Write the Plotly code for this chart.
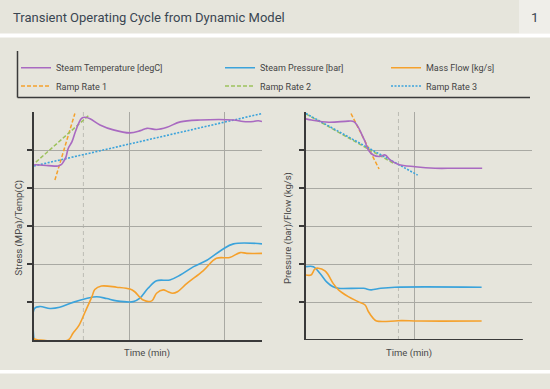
import plotly.graph_objects as go

# ---------------- data ----------------
# Left panel: Stress (MPa)/Temp(C) vs Time (min)
left_temp_t = [0, 0.01, 0.15, 0.256, 0.29, 0.31, 0.337, 0.36, 0.40, 0.43, 0.47, 0.50, 0.537, 0.59,
               0.695, 0.835, 1.01, 1.12, 1.19, 1.29, 1.40, 1.54, 1.75, 2.1, 2.2, 2.31, 2.36, 2.4]
left_temp_v = [4.6, 4.61, 4.59, 4.58, 4.62, 4.69, 4.82, 5.04, 5.22, 5.44, 5.7, 5.83, 5.86, 5.82,
               5.66, 5.53, 5.45, 5.51, 5.57, 5.54, 5.6, 5.74, 5.79, 5.79, 5.75, 5.75, 5.77, 5.75]

left_pres_t = [0, 0.005, 0.063, 0.168, 0.27, 0.41, 0.55, 0.66, 0.765, 0.87, 1.045, 1.115, 1.2,
               1.29, 1.43, 1.54, 1.68, 1.82, 1.975, 2.1, 2.4]
left_pres_v = [0, 0.83, 0.88, 0.83, 0.86, 0.99, 1.09, 1.14, 1.09, 1.03, 1.01, 1.1, 1.36,
               1.56, 1.58, 1.71, 1.93, 2.1, 2.37, 2.53, 2.53]

left_flow_t = [0, 0.01, 0.05, 0.36, 0.41, 0.47, 0.54, 0.61, 0.64, 0.71, 0.87, 1.01, 1.06, 1.15,
               1.24, 1.29, 1.36, 1.41, 1.46, 1.51, 1.61, 1.78, 1.92, 2.06, 2.17, 2.24, 2.4]
left_flow_v = [0.05, 0.02, 0.0, 0.0, 0.18, 0.37, 0.75, 1.14, 1.33, 1.42, 1.39, 1.34, 1.27, 1.05,
               1.03, 1.23, 1.32, 1.27, 1.23, 1.27, 1.49, 1.82, 2.15, 2.17, 2.3, 2.28, 2.28]

left_ramp1_t = [0.22, 0.43]
left_ramp1_v = [4.21, 5.96]
left_ramp2_t = [0.02, 0.58]
left_ramp2_v = [4.68, 5.92]
left_ramp3_t = [0.0, 2.4]
left_ramp3_v = [4.58, 5.96]
left_marker_time = 0.52

# Right panel: Pressure (bar)/Flow (kg/s) vs Time (min)
right_temp_t = [0, 0.05, 0.21, 0.39, 0.44, 0.48, 0.51, 0.545, 0.575, 0.62, 0.68, 0.73, 0.776,
                0.853, 1.006, 1.19, 1.37, 1.625]
right_temp_v = [5.82, 5.79, 5.73, 5.76, 5.75, 5.61, 5.44, 5.22, 5.0, 4.87, 4.83, 4.87, 4.74,
                4.62, 4.56, 4.52, 4.52, 4.52]

right_pres_t = [0, 0.068, 0.13, 0.19, 0.25, 0.3, 0.53, 0.6, 0.69, 0.82, 1.62]
right_pres_v = [1.93, 1.93, 1.75, 1.53, 1.40, 1.36, 1.36, 1.32, 1.36, 1.39, 1.39]

right_flow_t = [0, 0.046, 0.083, 0.114, 0.175, 0.206, 0.25, 0.3, 0.39, 0.48, 0.545, 0.575,
                0.62, 0.65, 0.82, 0.88, 1.04, 1.62]
right_flow_v = [1.71, 1.71, 1.87, 1.89, 1.82, 1.71, 1.49, 1.32, 1.14, 1.01, 0.92, 0.75,
                0.57, 0.5, 0.5, 0.51, 0.5, 0.5]

right_ramp1_t = [0.415, 0.674]
right_ramp1_v = [5.96, 4.5]
right_ramp2_t = [0.0, 0.82]
right_ramp2_v = [5.95, 4.63]
right_ramp3_t = [0.0, 1.03]
right_ramp3_v = [5.96, 4.34]
right_marker_time = 0.853

series_names = ["Steam Temperature [degC]", "Steam Pressure [bar]", "Mass Flow [kg/s]",
                "Ramp Rate 1", "Ramp Rate 2", "Ramp Rate 3"]
y_tick_vals = [1, 2, 3, 4, 5]
left_x_grid = [1, 2]
right_x_grid = [1]

# ---------------- styles ----------------
BG = "#e6e5dc"
PURPLE = "#a96ac1"
BLUE = "#3ba3db"
ORANGE = "#f5a12c"
GREEN = "#9dc25c"
GRID = "#a9a9a3"
AXIS = "#3a3a3a"
TXT = "#3a4652"
FONT = "Roboto, sans-serif"

W, H = 550, 389


def px_x(p):
    return p / W


def px_y(p):
    return (H - p) / H


styles = [
    dict(color=PURPLE, width=1.6),
    dict(color=BLUE, width=1.6),
    dict(color=ORANGE, width=1.6),
    dict(color=ORANGE, width=1.5, dash="4px,2px"),
    dict(color=GREEN, width=1.5, dash="4px,2px"),
    dict(color=BLUE, width=1.6, dash="2px,1.5px"),
]
legend_ids = ["legend", "legend2", "legend3", "legend4", "legend5", "legend6"]

fig = go.Figure()

left_sets = [(left_temp_t, left_temp_v), (left_pres_t, left_pres_v), (left_flow_t, left_flow_v),
             (left_ramp1_t, left_ramp1_v), (left_ramp2_t, left_ramp2_v), (left_ramp3_t, left_ramp3_v)]
right_sets = [(right_temp_t, right_temp_v), (right_pres_t, right_pres_v), (right_flow_t, right_flow_v),
              (right_ramp1_t, right_ramp1_v), (right_ramp2_t, right_ramp2_v), (right_ramp3_t, right_ramp3_v)]

# ramps below, measured series on top
order = [3, 4, 5, 0, 1, 2]
for i in order:
    t, v = left_sets[i]
    fig.add_trace(go.Scatter(x=t, y=v, mode="lines", name=series_names[i], line=styles[i],
                             line_shape="spline" if i < 3 else "linear",
                             xaxis="x", yaxis="y", legend=legend_ids[i], showlegend=True,
                             hoverinfo="skip"))
for i in order:
    t, v = right_sets[i]
    fig.add_trace(go.Scatter(x=t, y=v, mode="lines", name=series_names[i], line=styles[i],
                             line_shape="spline" if i < 3 else "linear",
                             xaxis="x2", yaxis="y2", showlegend=False, hoverinfo="skip"))

ydom = [px_y(340), px_y(112)]
common_x = dict(showticklabels=False, ticks="", zeroline=False, showgrid=True, gridcolor=GRID,
                gridwidth=1, tickmode="array", fixedrange=True)
common_y = dict(showticklabels=False, ticks="outside", ticklen=5, tickwidth=1.5, tickcolor=AXIS,
                zeroline=False, showgrid=True, gridcolor=GRID, gridwidth=1, tickmode="array",
                tickvals=y_tick_vals, range=[0, 6], showline=True, linecolor=AXIS, linewidth=2,
                domain=ydom, fixedrange=True)

fig.update_layout(
    width=W, height=H,
    margin=dict(l=0, r=0, t=0, b=0),
    paper_bgcolor=BG, plot_bgcolor=BG,
    font=dict(family=FONT, color="#4a4a4a", size=9.5),
    title=dict(text="Transient Operating Cycle from Dynamic Model", x=px_x(13), xanchor="left",
               y=px_y(17), yanchor="middle", xref="paper", yref="container",
               font=dict(family=FONT, size=13, color=TXT)),
    xaxis=dict(domain=[px_x(34), px_x(262)], range=[0, 2.4], tickvals=left_x_grid,
               showline=True, linecolor=AXIS, linewidth=2, anchor="y", **common_x),
    yaxis=dict(anchor="x", **common_y),
    xaxis2=dict(domain=[px_x(306), px_x(531.5)], range=[0, 2.08], tickvals=right_x_grid,
                showline=False, anchor="y2", **common_x),
    yaxis2=dict(anchor="x2", **common_y),
    showlegend=True,
)

# legends: one per item, laid out in 3 columns x 2 rows
leg_cols = [16, 220, 386]
leg_rows = [67.7, 86]
for k, lid in enumerate(legend_ids):
    col = k % 3
    row = k // 3
    fig.update_layout({lid: dict(x=px_x(leg_cols[col]), y=px_y(leg_rows[row]), xanchor="left",
                                 yanchor="middle", bgcolor="rgba(0,0,0,0)", borderwidth=0,
                                 itemwidth=30, font=dict(family=FONT, size=9, color="#444"),
                                 itemclick=False, itemdoubleclick=False)})

shapes = []
# page number box / separators
shapes.append(dict(type="rect", xref="paper", yref="paper", x0=px_x(519), x1=1, y0=px_y(33.5), y1=1,
                   fillcolor="#efeee9", line=dict(width=0), layer="below"))
shapes.append(dict(type="rect", xref="paper", yref="paper", x0=0, x1=1, y0=px_y(37.5), y1=px_y(33.5),
                   fillcolor="white", line=dict(width=0), layer="below"))
shapes.append(dict(type="rect", xref="paper", yref="paper", x0=0, x1=1, y0=px_y(373.5), y1=px_y(370),
                   fillcolor="white", line=dict(width=0), layer="below"))
# legend frame (left and bottom borders)
shapes.append(dict(type="line", xref="paper", yref="paper", x0=px_x(17.5), x1=px_x(17.5),
                   y0=px_y(51), y1=px_y(97.5), line=dict(color=AXIS, width=1.5)))
shapes.append(dict(type="line", xref="paper", yref="paper", x0=px_x(17.5), x1=px_x(530),
                   y0=px_y(97.5), y1=px_y(97.5), line=dict(color=AXIS, width=1.5)))
# right panel bottom axis line (shorter than its gridlines)
shapes.append(dict(type="line", xref="x2", yref="y2", x0=0, x1=2.0, y0=0, y1=0,
                   line=dict(color=AXIS, width=2)))
# dashed time markers
shapes.append(dict(type="line", xref="x", yref="y", x0=left_marker_time, x1=left_marker_time,
                   y0=0, y1=6, line=dict(color="#bcbcb4", width=1, dash="4px,3px"), layer="below"))
shapes.append(dict(type="line", xref="x2", yref="y2", x0=right_marker_time, x1=right_marker_time,
                   y0=0, y1=6, line=dict(color="#bcbcb4", width=1, dash="4px,3px"), layer="below"))
fig.update_layout(shapes=shapes)

AX_FONT = dict(family=FONT, size=9.5, color="#4a4a4a")
annotations = [
    dict(text="1", xref="paper", yref="paper", x=px_x(535), y=px_y(17), showarrow=False,
         font=dict(family=FONT, size=13.5, color=TXT), xanchor="center", yanchor="middle"),
    dict(text="Time (min)", xref="paper", yref="paper", x=px_x(147), y=px_y(353), showarrow=False,
         font=AX_FONT, xanchor="center", yanchor="middle"),
    dict(text="Time (min)", xref="paper", yref="paper", x=px_x(409), y=px_y(353), showarrow=False,
         font=AX_FONT, xanchor="center", yanchor="middle"),
    dict(text="Stress (MPa)/Temp(C)", xref="paper", yref="paper", x=px_x(18.5), y=px_y(228),
         showarrow=False, textangle=-90, font=AX_FONT, xanchor="center", yanchor="middle"),
    dict(text="Pressure (bar)/Flow (kg/s)", xref="paper", yref="paper", x=px_x(288), y=px_y(228),
         showarrow=False, textangle=-90, font=AX_FONT, xanchor="center", yanchor="middle"),
]
fig.update_layout(annotations=annotations)

fig.write_html("out.html", config={"displayModeBar": False},
               post_script="document.body.style.margin='0px';document.body.style.overflow='hidden';")
